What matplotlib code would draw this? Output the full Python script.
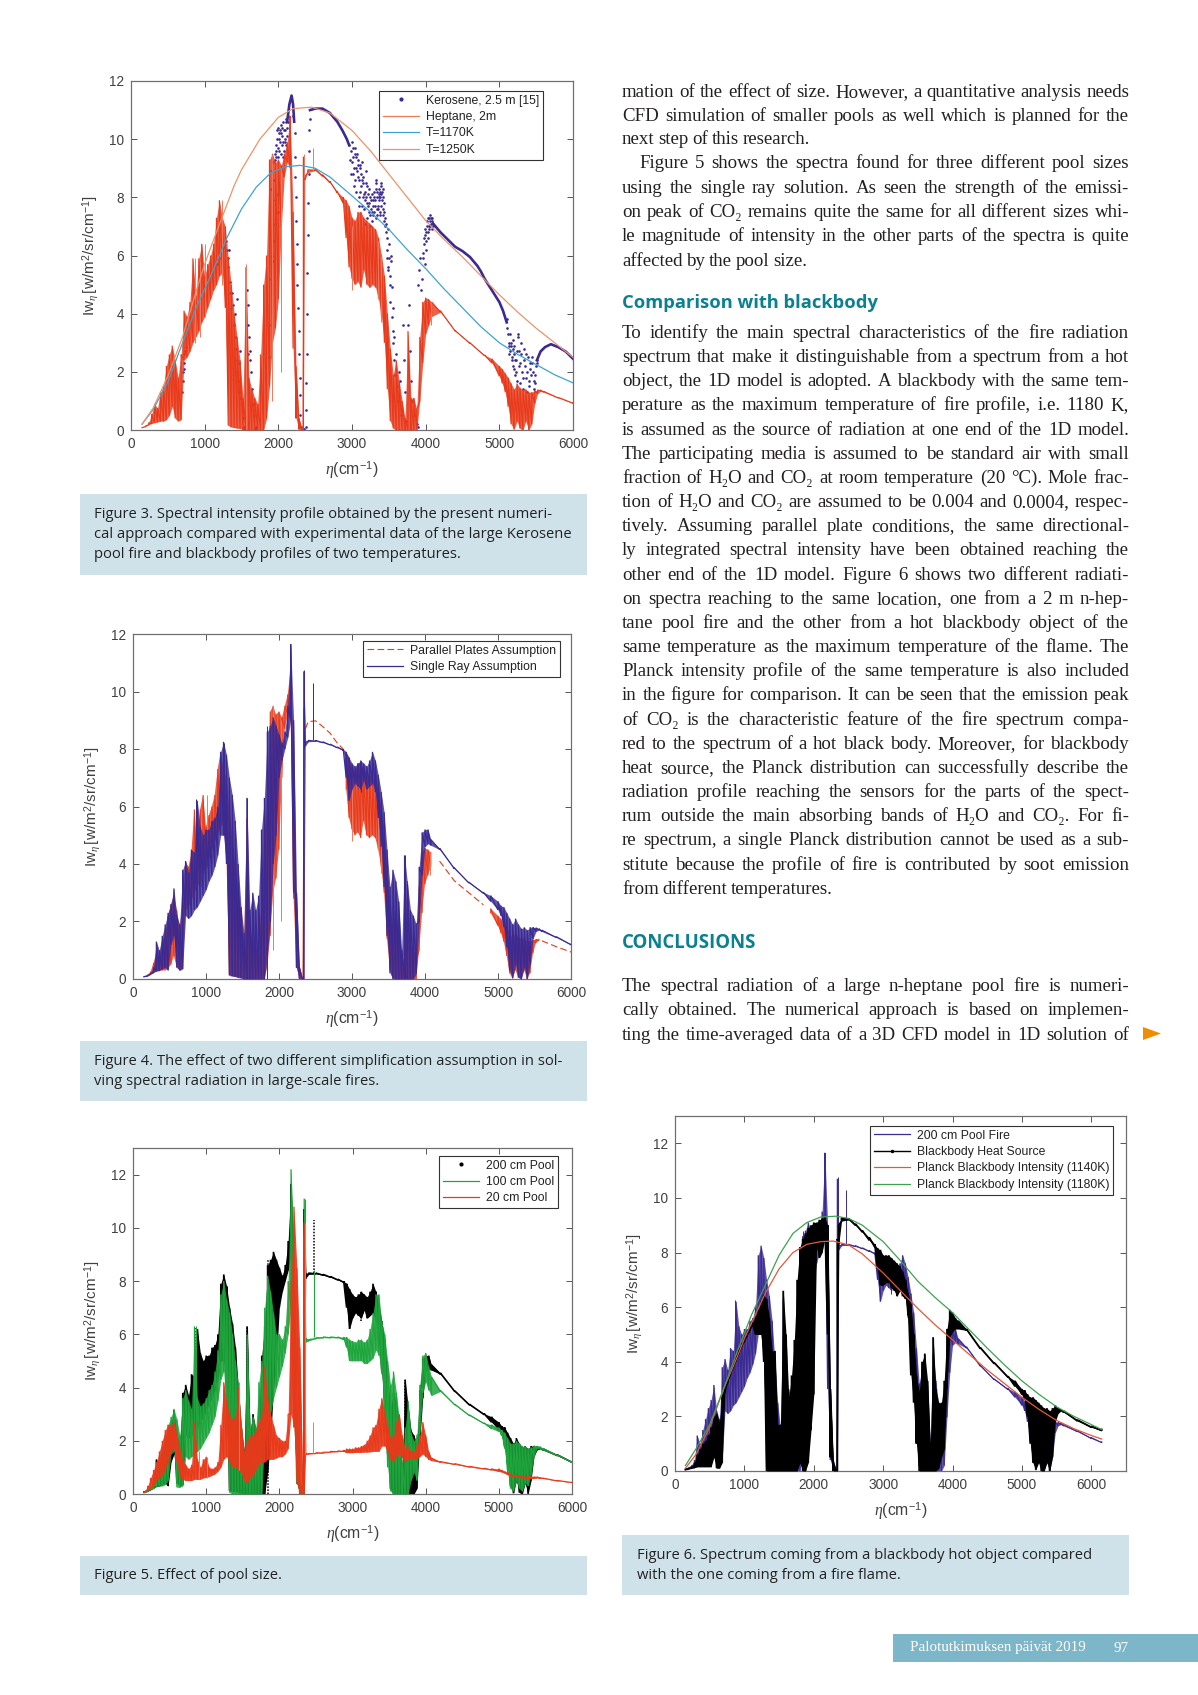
import matplotlib
matplotlib.use('Agg')
import matplotlib.pyplot as plt
from matplotlib.lines import Line2D
from matplotlib.patches import Rectangle, Polygon

W, H = 1198, 1695
plt.rcParams['font.family'] = ['Liberation Sans', 'DejaVu Sans']
plt.rcParams['mathtext.fontset'] = 'custom'
plt.rcParams['mathtext.rm'] = 'Liberation Sans'
plt.rcParams['mathtext.it'] = 'Liberation Serif:italic'

# wavenumber grid shared by the spectra
eta = [150, 200, 240, 280, 320, 360, 400, 440, 480, 520, 560, 600, 640, 680,
       720, 760, 800, 840, 880, 920, 960, 1000, 1040, 1080, 1120, 1160, 1200, 1240, 1280,
       1320, 1360, 1400, 1440, 1480, 1520, 1560, 1600, 1640, 1680, 1720, 1760, 1800, 1840, 1880, 1920, 1960, 2000, 2040, 2080, 2120, 2160, 2200, 2240, 2280, 2320,
       2340, 2360, 2400, 2500, 2600, 2700, 2800, 2880,
       2920, 2960, 3000, 3040, 3080, 3120, 3160, 3200, 3240, 3280, 3320, 3360, 3400, 3440, 3480, 3520, 3560, 3600, 3640, 3680, 3720, 3760, 3800, 3840, 3880, 3920, 3960, 4000, 4040, 4080,
       4200, 4400, 4600, 4800, 4900, 5000, 5040, 5080, 5120, 5160, 5200, 5240, 5280, 5320, 5360, 5400, 5440, 5480, 5520, 5560, 5600, 5800, 6000, 6150]

# parallel plates (Heptane, 2m)
pp_lo = [.08, .12, .18, .22, .25, .27, .3, .3, .35, .5, .8, .4, .3, .35,
         2.4, 2.5, 2.7, 3.0, 3.2, 3.4, 3.7, 3.9, 4.2, 4.5, 4.8, 5.0, 5.3, 5.4, 4.2,
         .15, .1, .08, .06, .05, 0, 0, 0, 0, 0, 0, 0, 0, .4, 1.5, 3, 3.5, 4.5, 7, 8.7, 9.2, 9.0, 2.8, .4, .02, 0,
         0, 8.6, 8.85, 8.92, 8.72, 8.5, 8.15, 7.8,
         6.6, 5.6, 5.2, 5.0, 5.1, 4.9, 5.5, 5.0, 4.9, 5.0, 4.9, 4.5, 3.9, 3.0, 1.4, .3, .05, 0, 0, 0, 0, 0, 0, 0, 0, 1, 2.3, 3.3, 3.6, 3.9,
         4.05, 3.4, 2.98, 2.55, 2.3, 1.85, 1.6, 1.3, .8, .2, .02, .3, .05, 0, .3, 0, .2, .9, 1.25, 1.33, 1.3, 1.1, .92, .8]
pp_hi = [.08, .14, .25, .55, .9, .75, 1.3, 1.5, 2.2, 2.6, 2.9, 2.4, 1.8, 2.6,
         4.1, 3.9, 4.4, 5.9, 4.6, 5.9, 6.4, 5.3, 5.7, 6.0, 6.4, 7.3, 7.9, 7.3, 7.0,
         5.9, 5.0, 4.0, 3.2, 2.4, 1.1, 5.6, 1.8, 1.4, 1.1, .9, 2.6, 5.0, 6, 9.3, 9.5, 9.2, 9.3, 9.1, 9.5, 9.9, 10.8, 7.5, 2.2, .4, .02,
         9.4, 8.7, 8.95, 8.98, 8.78, 8.55, 8.2, 8.0,
         7.9, 7.7, 7.3, 7.2, 7.5, 7.5, 7.3, 7.2, 7.1, 7.0, 6.9, 6.6, 6.0, 5.3, 4.0, 2.8, 1.9, 2.4, 1.7, 1.0, .4, 3.4, 1.1, 1.1, .7, 3.2, 4.4, 4.55, 4.5, 4.4,
         4.1, 3.42, 3.0, 2.58, 2.45, 2.2, 2.1, 1.95, 1.8, 1.6, 1.4, 1.6, 1.45, 1.4, 1.4, 1.3, 1.3, 1.35, 1.38, 1.38, 1.33, 1.12, .94, .82]

# single ray (also the 200 cm pool)
sr_lo = [.08, .1, .16, .22, .28, .3, .35, .4, .3, 1.2, 1.5, .4, .3, .35,
         2.2, 2.1, 2.2, 2.4, 2.5, 2.7, 2.9, 3.1, 3.4, 3.6, 3.9, 4.3, 5, 5, 4,
         .12, .1, .08, .05, .03, 0, 0, 0, 0, 0, 0, 0, 0, .8, 2, 4, 5, 7, 7.6, 8, 8.4, 9, 3, .4, .02, 0,
         0, 8.1, 8.25, 8.27, 8.22, 8.14, 8.04, 7.95,
         7.0, 6.2, 6.6, 6.8, 6.7, 6.6, 6.9, 6.6, 6.7, 6.8, 6.5, 5.6, 4.6, 3.2, 1.5, .2, 0, 0, 0, 0, 0, 0, 0, 0, .2, 2, 3.6, 4.6, 4.7, 4.65,
         4.5, 3.84, 3.34, 2.98, 2.7, 2.4, 2.2, 1.8, 1.1, .3, .03, .5, .05, 0, .4, 0, .5, 1.4, 1.65, 1.7, 1.65, 1.44, 1.19, 1.04]
sr_hi = [.08, .12, .2, .4, 1.3, 1.0, 1.5, 1.9, 2.3, 2.6, 3.15, 2.2, 1.9, 3.8,
         4.1, 3.7, 4.5, 4.4, 6.2, 5.3, 5.0, 5.2, 5.2, 5.5, 5.6, 6.0, 7.9, 8.25, 7.8,
         7.0, 6.4, 5.5, 4.0, 2.5, 1.6, 6.3, 2.4, 3.0, 2.4, 2.9, 5.2, 6.3, 8.6, 8.8, 9.1, 8.8, 8.5, 8.2, 8.6, 9.5, 11.65, 9, 3, .4, .02,
         10.7, 8.25, 8.3, 8.3, 8.25, 8.17, 8.07, 8.0,
         7.9, 7.7, 7.5, 7.4, 7.5, 7.6, 7.5, 7.4, 7.6, 7.9, 7.6, 7.1, 6.5, 5.8, 4.5, 3.2, 3.8, 3.4, 2.7, 1.0, 4.3, 3.3, 2.4, 2.2, 1.9, 3.9, 5.1, 5.2, 5.2, 4.85,
         4.55, 3.87, 3.37, 3.02, 2.9, 2.7, 2.55, 2.5, 2.3, 2.1, 1.9, 2.1, 1.9, 1.75, 1.8, 1.7, 1.8, 1.8, 1.78, 1.75, 1.7, 1.47, 1.22, 1.06]

# 100 cm pool
p100_lo = [.05, .1, .16, .2, .28, .3, .3, .35, .5, 1.5, 1.6, .25, .25, .3,
           1.4, 1.3, 1.4, 1.5, 1.6, 1.7, 1.9, 2.1, 2.3, 2.6, 2.9, 3.5, 4.3, 4.6, 3,
           .05, 0, 0, 0, 0, 0, 0, 0, 0, 0, 0, 0, 2, 2.5, 3, 3.6, 4, 4.4, 4.8, 5.3, 6, 7, 2.5, .4, .02, 0,
           0, 5.7, 5.75, 5.84, 5.87, 5.87, 5.87, 5.8,
           5.5, 5.0, 5.0, 5.0, 5.0, 5.0, 4.9, 4.9, 5.0, 5.1, 5.4, 5.2, 4.5, 2.9, 1.0, .1, 0, 0, 0, 0, 0, 0, .5, .8, .5, 2.3, 3.8, 4.2, 3.9, 3.7,
           3.85, 3.34, 2.94, 2.64, 2.45, 2.35, 2.2, 1.7, .8, .2, .1, .5, .2, .1, .4, .3, .7, 1.4, 1.7, 1.72, 1.65, 1.44, 1.19, 1.04]
p100_hi = [.07, .12, .2, .5, 1.2, 1.3, 1.6, 2.1, 2.6, 2.9, 3.2, 2.8, 2.2, 3.6,
           3.9, 3.5, 3.2, 6.3, 3.6, 3.3, 3.4, 3.6, 3.9, 4.1, 4.6, 5.4, 7.5, 8.0, 7.3,
           6.8, 6, 5, 4.1, 2.6, 1.5, 6, 2.5, 2.9, 2.5, 4.2, 5, 7, 8.2, 7.6, 6.8, 6, 6.0, 5.8, 6.3, 8, 12.2, 9.5, 3, .4, .02,
           11.1, 5.85, 5.8, 5.87, 5.9, 5.9, 5.9, 5.9,
           5.9, 5.8, 5.75, 5.7, 5.8, 5.8, 5.7, 5.8, 6.2, 6.8, 7.5, 7.5, 6.5, 6.0, 5, 4.1, 4.6, 3.8, 2.8, 1.1, 2.5, 3.5, 2.3, 2, 2.2, 4.1, 5.2, 5.3, 4.8, 4.4,
           3.9, 3.37, 2.97, 2.67, 2.6, 2.5, 2.4, 2.3, 2.1, 1.9, 1.9, 2, 1.9, 1.8, 1.8, 1.7, 1.75, 1.8, 1.8, 1.78, 1.72, 1.47, 1.22, 1.06]

# 20 cm pool
p20_lo = [.05, .15, .2, .3, .5, .6, .7, .9, 1.2, 1.6, 1.7, 1.2, .65, .55,
          .5, .5, .5, .55, .55, .55, .6, .62, .65, .7, .75, .85, 1, 1.3, 1.4,
          1.2, 1.0, 1.0, .9, .8, .5, .4, .6, .7, .9, 1.1, 1.2, 1.2, 1.3, 1.3, 1.3, 1.35, 1.4, 1.4, 1.5, 1.7, 3, 2.5, .4, .02, 0,
          0, 1.48, 1.5, 1.52, 1.54, 1.57, 1.59, 1.6,
          1.55, 1.55, 1.55, 1.56, 1.56, 1.56, 1.57, 1.57, 1.58, 1.6, 1.6, 1.6, 1.8, 1.8, 1.6, 1.3, 1.2, 1.4, 1.5, 1.35, 1.2, 1.3, 1.3, 1.3, 1.35, 1.4, 1.5, 1.4, 1.3, 1.25,
          1.19, 1.11, 1.01, .94, .9, .85, .82, .78, .72, .68, .65, .62, .62, .6, .6, .58, .58, .58, .6, .58, .58, .49, .43, .39]
p20_hi = [.07, .3, .6, .9, 1.2, 1.6, 2.0, 2.4, 2.6, 2.6, 2.7, 2.3, 1.7, 1.3,
          1.1, .95, 1.1, 2.7, 1.3, 1.0, 1.3, 1.4, 1.0, .95, 1.0, 1.2, 2.6, 4.2, 3.5,
          3.0, 2.8, 2.9, 4, 2.6, 1.6, 2.0, 2.2, 2.2, 2.4, 2.7, 3, 4.8, 3.6, 3.0, 2.6, 2.2, 2.1, 2, 2, 3, 8, 10.8, 8.5, 5.5, .3,
          10.2, 1.52, 1.52, 1.55, 1.57, 1.6, 1.62, 1.65,
          1.7, 1.7, 1.7, 1.75, 1.75, 1.8, 1.85, 2, 2.2, 2.5, 2.6, 3.2, 3.6, 3.1, 2.6, 2.1, 2.2, 2.7, 3.0, 2.2, 1.7, 1.8, 1.6, 1.6, 1.8, 2.2, 2.7, 2.2, 1.6, 1.35,
          1.22, 1.14, 1.04, .97, .95, .95, .9, .85, .82, .75, .72, .7, .7, .68, .66, .68, .66, .65, .65, .62, .6, .51, .45, .41]

# blackbody heat source
bb_lo = [.05, .08, .1, .12, .15, .15, .15, .15, .15, .15, .5, .1, .1, .3,
         2.9, 3.25, 3.55, 3.8, 4.05, 4.3, 4.55, 4.75, 4.95, 5.15, 5.35, 5.0, 5, 5, 4,
         0, 0, 0, 0, 0, 0, 0, 0, 0, 0, 0, 0, .3, 0, 0, .3, 1.5, 2.8, 8.2, 7.8, 8, 8.5, 5, .5, 0, 0,
         0, 8.3, 9.15, 9.2, 9.0, 8.75, 8.45, 8.2,
         7.4, 6.8, 6.8, 6.9, 6.9, 6.7, 6.6, 6.4, 6.6, 6.4, 6.3, 5.7, 3.5, 2.5, 1, 0, 0, 0, 0, 0, 0, 0, .1, .5, .8, 3, 4.9, 5.1, 5.2, 5.2,
         5.15, 4.48, 3.93, 3.43, 3.1, 2.8, 2.6, 2.0, 1, .3, .05, .3, 0, 0, .3, 0, .5, 1.8, 2.1, 2.2, 2.15, 1.83, 1.6, 1.48]
bb_hi = [.05, .1, .15, .3, .6, .8, 1.0, 1.1, 1.3, 1.6, 2.0, 2.1, 1.8, 2.7,
         3.1, 3.35, 3.65, 3.9, 4.15, 4.4, 4.65, 4.85, 5.05, 5.25, 5.45, 5.65, 5.9, 6.2, 6.45,
         6.3, 5.6, 4.4, 4.4, 1.7, 1.7, 6.6, 5, 2.7, 3.5, 4.8, 7, 8.2, 8.5, 8.7, 8.9, 9, 9.1, 9.1, 9.2, 9.25, 9.3, 9, 3, .3, .05,
         8.5, 9.0, 9.27, 9.25, 9.05, 8.8, 8.55, 8.3,
         8.15, 8.1, 7.9, 7.9, 7.9, 7.8, 7.7, 7.6, 7.5, 7.3, 7.0, 6.5, 6.1, 5.0, 3.5, 2.9, 4.0, 4.3, 3.3, 1, 4.9, 3.0, 2.5, 2.5, 3.3, 5.2, 5.9, 5.8, 5.6, 5.5,
         5.2, 4.52, 3.97, 3.47, 3.3, 3.0, 2.95, 2.8, 2.7, 2.7, 2.6, 2.5, 2.4, 2.3, 2.3, 2.2, 2.3, 2.4, 2.3, 2.25, 2.2, 1.87, 1.64, 1.52]

# thin spikes above the dense bands
pp_spike_x = [870, 930, 1010, 1230, 1560, 1920, 2030, 2345, 2470, 3000, 3350, 3400, 4070]
pp_spike_lo = [3, 3.2, 3.9, 5, 0, 1, 2, 8.7, 8.9, 4.8, 4.5, 3.7, 3.6]
pp_spike_hi = [5.9, 5.8, 6.4, 7.9, 5.7, 9.5, 9, 9.5, 9.7, 7, 6.5, 6, 4.4]
sr_spike_x = [860, 1240, 1560, 1840, 2345, 2470, 3120, 3720]
sr_spike_lo = [2.5, 5, 0, 0, 8, 8.3, 6.5, 0]
sr_spike_hi = [6.25, 8.2, 6.3, 8.8, 10.75, 10.3, 7.6, 4.3]
p100_spike_x = [2470, 2345, 860, 3480]
p100_spike_lo = [5.9, 5.8, 1.6, 2]
p100_spike_hi = [8.4, 11.1, 6.3, 4.7]
p20_spike_x = [2465, 1010, 900, 1450, 2345]
p20_spike_lo = [1.55, .6, .6, .9, 1.5]
p20_spike_hi = [2.7, 1.4, 1.6, 4.2, 10.2]

# Planck curves
t1250_x = [150, 300, 500, 700, 900, 1000, 1100, 1250, 1400, 1500, 1750, 2000, 2200, 2450, 2700, 3000, 3250, 3500, 3750, 4000, 4250, 4500, 4750, 5000, 5250, 5500, 5750, 6000]
t1250_y = [.2, .75, 1.85, 3.2, 4.9, 5.7, 6.4, 7.4, 8.4, 8.95, 10.0, 10.75, 11.05, 11.1, 10.9, 10.3, 9.6, 8.8, 8.0, 7.2, 6.55, 5.95, 5.3, 4.65, 4.05, 3.5, 3.0, 2.5]
t1170_x = [150, 300, 500, 700, 900, 1100, 1300, 1500, 1700, 1900, 2100, 2300, 2500, 2700, 3000, 3250, 3500, 3750, 4000, 4250, 4500, 4750, 5000, 5250, 5500, 5750, 6000]
t1170_y = [.2, .7, 1.65, 3.0, 4.3, 5.4, 6.6, 7.6, 8.35, 8.85, 9.05, 9.1, 9.0, 8.7, 8.05, 7.5, 6.9, 6.2, 5.55, 4.85, 4.2, 3.55, 3.0, 2.6, 2.25, 1.9, 1.62]
p1140_x = [150, 300, 500, 700, 900, 1000, 1100, 1300, 1500, 1700, 1900, 2100, 2280, 2500, 2700, 3000, 3250, 3500, 3750, 4000, 4250, 4500, 4750, 5000, 5250, 5500, 5750, 6000, 6150]
p1140_y = [.1, .6, 1.6, 3, 4.2, 4.85, 5.4, 6.5, 7.4, 8.0, 8.3, 8.4, 8.42, 8.28, 7.95, 7.25, 6.6, 5.95, 5.35, 4.8, 4.25, 3.7, 3.2, 2.7, 2.25, 1.85, 1.55, 1.3, 1.17]
p1180_x = [150, 300, 500, 700, 900, 1100, 1300, 1500, 1700, 1900, 2100, 2320, 2500, 2700, 3000, 3250, 3500, 3750, 4000, 4250, 4500, 4750, 5000, 5250, 5500, 5750, 6000, 6150]
p1180_y = [.2, .8, 1.7, 3, 4.4, 5.7, 6.8, 7.9, 8.7, 9.1, 9.3, 9.33, 9.25, 9.0, 8.4, 7.7, 6.95, 6.35, 5.8, 5.15, 4.5, 3.88, 3.3, 2.8, 2.35, 2.0, 1.7, 1.52]

# kerosene data
ker_x = [690, 700, 705, 715, 720, 725, 735, 745, 1170, 1200, 1230, 1260, 1285, 1300, 1310, 1320, 1325, 1340, 1350, 1360, 1375, 1385, 1395, 1405, 1415, 1425, 1435, 1445, 1460, 1470, 1480, 1440, 1480, 1470,
         1510, 1520, 1530, 1540, 1580, 1585, 1595, 1600, 1610, 1620, 1630, 1640, 1655, 1665, 1680, 1700, 1590,
         1870, 1880, 1900, 1910, 1925, 1945, 1960, 1990, 1905, 1950, 2000, 1940, 1900, 1930, 1965, 2000,
         1970, 1985, 2005, 2020, 2035, 2050, 2065, 2080, 2095, 2110, 2000, 2040, 2060, 2090,
         1955, 1975, 1995, 2015, 2030, 2045, 2055, 2075, 2085, 2100, 2115, 2125, 2010, 2025, 2070, 1960, 1980, 2105, 2120, 2130,
         2205, 2220, 2225, 2230, 2240, 2245, 2250, 2255, 2260, 2265, 2275, 2280, 2290, 2295, 2300, 2310, 2330, 2345, 2370, 2375, 2380, 2385, 2390, 2395, 2400, 2405, 2410, 2415, 2420, 2430,
         2960, 2970, 2980, 3000, 3010, 3020, 3030, 3040, 3050, 3060, 3070, 3080, 3090, 3100, 3110, 3120, 3130, 3140, 3150, 3160, 3170, 3180, 3190, 3200, 3210, 3220, 3230, 3240, 3250, 3260, 3270, 3280, 3290, 3300, 3310, 3320, 3330, 3340, 3350, 3360, 3370, 3380, 3390, 3400, 3410, 3420, 3430, 3440, 3450,
         2990, 3005, 3015, 3025, 3035, 3045, 3055, 3065, 3075, 3085, 3095, 3105, 3115, 3125, 3135, 3145, 3155, 3165, 3175, 3185, 3195, 3205, 3215, 3225, 3235, 3245, 3255, 3265, 3275, 3285, 3295, 3305, 3315, 3325, 3335, 3345, 3355, 3365, 3375, 3385, 3395, 3405, 3415, 3425, 3435, 3445, 3320, 3340, 3360, 3380, 3400, 3420,
         3460, 3470, 3480, 3490, 3500, 3510, 3520, 3530, 3540, 3550, 3560, 3570, 3590, 3610, 3630, 3650, 3670, 3690, 3700, 3720, 3735, 3760, 3780, 3790, 3800, 3820, 3845, 3880, 3900,
         3465, 3475, 3485, 3495, 3505, 3515, 3525, 3545, 3555, 3575, 3600, 3640,
         3900, 3910, 3920, 3930, 3945, 3960, 3975, 3985, 3995, 4005, 4015, 4025, 4035, 4045, 4055, 4065, 4075, 4090, 4105,
         3990, 4000, 4010, 4020, 4030, 4040, 4050, 4060, 4070, 4080, 4085, 4095, 3970, 3980,
         5100, 5120, 5130, 5140, 5150, 5165, 5175, 5185, 5195, 5205, 5215, 5225, 5240, 5255, 5265, 5280, 5295, 5310, 5325, 5340, 5360, 5375, 5390, 5405, 5420, 5440, 5455, 5470, 5480, 5495, 5510,
         5110, 5125, 5135, 5155, 5170, 5180, 5190, 5200, 5210, 5220, 5235, 5250, 5270, 5285, 5300, 5315, 5330, 5350, 5365, 5380, 5400, 5415, 5430, 5450, 5465, 5490, 5505]
ker_y = [1.3, 1.7, 2.0, 2.3, 2.1, 2.6, 2.7, 2.85, 5.7, 5.9, 6.1, 6.3, 6.5, 6.2, 5.9, 5.6, 6.2, 5.1, 4.7, 4.2, 4.7, 4.3, 3.6, 4.0, 3.2, 2.8, 2.4, 2.0, 1.7, 1.3, 1.1, 4.5, 2.7, 2.3,
         .9, .4, .1, .05, 4.8, 4.3, 3.6, 3.2, 2.7, 2.4, 2.0, 1.4, .9, .5, .05, .1, 2.6,
         2.5, 3.6, 5.2, 6.0, 5.8, 6.5, 7.1, 7.5, 8.3, 7.9, 8.1, 8.6, 8.9, 9.2, 9.4, 9.4,
         9.8, 10.0, 10.2, 9.9, 10.5, 10.1, 10.6, 9.6, 10.3, 10.7, 9.7, 9.5, 9.4, 9.9,
         9.3, 9.6, 10.4, 9.6, 10.2, 9.8, 10.4, 10.3, 10.0, 10.6, 10.4, 10.8, 10.0, 10.3, 9.9, 9.5, 10.3, 9.8, 10.1, 10.6,
         10.8, 10.2, 9.4, 8.7, 8.0, 7.2, 6.4, 5.7, 5.0, 4.2, 3.4, 2.6, 1.8, 1.2, .5, .1, .05, .05, .1, .7, 1.6, 2.6, 4.0, 5.4, 6.7, 7.8, 8.8, 9.6, 10.3, 10.7,
         9.8, 9.3, 8.8, 9.9, 9.4, 8.8, 8.4, 9.7, 9.0, 8.2, 9.5, 8.7, 8.0, 7.7, 9.1, 8.4, 7.7, 9.2, 8.5, 7.6, 7.1, 8.2, 8.9, 7.8, 7.3, 8.1, 7.5, 7.0, 8.0, 7.6, 7.2, 7.9, 7.4, 8.2, 7.7, 7.3, 8.5, 8.0, 7.6, 8.3, 7.9, 7.4, 8.1, 8.4, 8.2, 7.6, 7.2, 7.8, 7.0,
         9.6, 9.2, 9.7, 9.0, 9.5, 8.6, 9.4, 8.9, 9.1, 9.3, 8.6, 9.0, 8.2, 8.8, 8.6, 8.0, 8.7, 8.1, 7.9, 8.5, 8.0, 8.4, 7.7, 8.3, 7.8, 7.4, 7.9, 8.1, 7.5, 7.7, 8.0, 7.5, 7.9, 8.3, 7.6, 8.2, 7.7, 8.1, 7.5, 8.0, 8.5, 7.9, 7.4, 8.0, 7.5, 7.3, 8.6, 7.4, 8.0, 8.2, 7.7, 8.3,
         6.8, 6.2, 5.9, 5.5, 6.4, 5.0, 4.4, 5.8, 3.9, 3.4, 3.0, 2.4, 1.9, 1.5, 1.0, 1.7, .5, 3.6, 2.4, 1.3, .3, 3.6, 4.3, 2.7, 1.7, 1.0, .5, .2, .1,
         7.1, 6.6, 5.6, 6.9, 5.9, 5.3, 6.0, 4.9, 4.2, 3.2, 2.6, 2.0,
         5.0, 5.5, 5.9, 4.8, 5.2, 5.9, 6.4, 5.7, 6.7, 6.2, 7.0, 6.6, 7.3, 6.9, 7.2, 7.4, 7.1, 7.2, 7.0,
         6.9, 6.5, 6.8, 7.2, 6.8, 7.0, 7.3, 7.0, 7.3, 7.3, 6.9, 7.1, 6.1, 6.6,
         3.8, 3.3, 2.9, 3.3, 2.7, 3.0, 2.4, 2.8, 2.1, 2.6, 1.9, 2.4, 1.7, 3.3, 2.2, 1.6, 2.6, 2.0, 1.4, 2.4, 1.8, 1.3, 2.5, 1.7, 2.1, 2.3, 2.0, 1.4, 1.6, 2.2, 2.4,
         3.5, 3.0, 2.6, 2.9, 2.5, 3.1, 2.2, 2.9, 2.4, 2.0, 2.7, 3.2, 2.7, 2.3, 3.0, 1.8, 2.8, 2.2, 2.6, 2.0, 1.5, 2.3, 1.9, 2.5, 1.7, 1.9, 2.3]
ker_top_x = [2430, 2500, 2600, 2700, 2800, 2870, 2930, 2960]
ker_top_y = [11.0, 11.05, 11.05, 10.9, 10.6, 10.3, 10.0, 9.8]
ker_peak_x = [2120, 2150, 2180, 2200, 2215]
ker_peak_y = [10.6, 11.2, 11.5, 11.2, 10.6]
ker_mid_x = [4100, 4200, 4300, 4400, 4500, 4600, 4700, 4750, 4800, 4900, 5000, 5050, 5100]
ker_mid_y = [7.1, 6.8, 6.55, 6.3, 6.15, 5.95, 5.65, 5.45, 5.2, 4.8, 4.4, 4.1, 3.7]
ker_end_x = [5510, 5560, 5620, 5700, 5800, 5900, 6000]
ker_end_y = [2.4, 2.7, 2.85, 2.95, 2.85, 2.7, 2.45]

body_1 = ["mation of the effect of size. However, a quantitative analysis needs",
          "CFD simulation of smaller pools as well which is planned for the",
          "next step of this research.",
          "Figure 5 shows the spectra found for three different pool sizes",
          "using the single ray solution. As seen the strength of the emissi-",
          "on peak of CO₂ remains quite the same for all different sizes whi-",
          "le magnitude of intensity in the other parts of the spectra is quite",
          "affected by the pool size."]
body_2 = ["To identify the main spectral characteristics of the fire radiation",
          "spectrum that make it distinguishable from a spectrum from a hot",
          "object, the 1D model is adopted. A blackbody with the same tem-",
          "perature as the maximum temperature of fire profile, i.e. 1180 K,",
          "is assumed as the source of radiation at one end of the 1D model.",
          "The participating media is assumed to be standard air with small",
          "fraction of H₂O and CO₂ at room temperature (20 °C). Mole frac-",
          "tion of H₂O and CO₂ are assumed to be 0.004 and 0.0004, respec-",
          "tively. Assuming parallel plate conditions, the same directional-",
          "ly integrated spectral intensity have been obtained reaching the",
          "other end of the 1D model. Figure 6 shows two different radiati-",
          "on spectra reaching to the same location, one from a 2 m n-hep-",
          "tane pool fire and the other from a hot blackbody object of the",
          "same temperature as the maximum temperature of the flame. The",
          "Planck intensity profile of the same temperature is also included",
          "in the figure for comparison. It can be seen that the emission peak",
          "of CO₂ is the characteristic feature of the fire spectrum compa-",
          "red to the spectrum of a hot black body. Moreover, for blackbody",
          "heat source, the Planck distribution can successfully describe the",
          "radiation profile reaching the sensors for the parts of the spect-",
          "rum outside the main absorbing bands of H₂O and CO₂. For fi-",
          "re spectrum, a single Planck distribution cannot be used as a sub-",
          "stitute because the profile of fire is contributed by soot emission",
          "from different temperatures."]
body_3 = ["The spectral radiation of a large n-heptane pool fire is numeri-",
          "cally obtained. The numerical approach is based on implemen-",
          "ting the time-averaged data of a 3D CFD model in 1D solution of"]
cap_3 = ["Figure 3. Spectral intensity profile obtained by the present numeri-",
         "cal approach compared with experimental data of the large Kerosene",
         "pool fire and blackbody profiles of two temperatures."]
cap_4 = ["Figure 4. The effect of two different simplification assumption in sol-",
         "ving spectral radiation in large-scale fires."]
cap_5 = ["Figure 5. Effect of pool size."]
cap_6 = ["Figure 6. Spectrum coming from a blackbody hot object compared",
         "with the one coming from a fire flame."]

RED = '#e8391a'
BLUE = '#3a2a92'
GREEN = '#1ea53c'
YLAB = r'$\mathrm{Iw}_{\eta}\,[\mathrm{w/m}^{2}\mathrm{/sr/cm}^{-1}]$'
XLAB = r'$\eta\mathrm{(cm}^{-1}\mathrm{)}$'
BODY = 13.6

fig = plt.figure(figsize=(W / 100, H / 100), dpi=100, facecolor='white')
page = fig.add_axes([0, 0, 1, 1], zorder=0)
page.set_xlim(0, W)
page.set_ylim(H, 0)
page.axis('off')
renderer = fig.canvas.get_renderer()
SERIF = ['Liberation Serif', 'DejaVu Serif']


def line_out(s, x0, x1, y, size, justify=True):
    # places word by word so both column edges line up
    words = s.split(' ')
    items = [page.text(x0, y, w, fontsize=size, family=SERIF, color='#231f20', va='baseline') for w in words]
    widths = [t.get_window_extent(renderer).width for t in items]
    space = size * 100 / 72 * 0.2
    if justify and len(words) > 1:
        space = (x1 - x0 - sum(widths)) / (len(words) - 1)
    x = x0
    for t, w in zip(items, widths):
        t.set_x(x)
        x += w + space


def caption(x0, y0, x1, y1, lines, ys, tx):
    page.add_patch(Rectangle((x0, y0), x1 - x0, y1 - y0, fc='#cfe2ea', ec='none'))
    for s, y in zip(lines, ys):
        page.text(tx, y, s, fontsize=10.6, family=['Open Sans', 'DejaVu Sans'], color='#222222', va='center')


def make_ax(l, t, r, b, xmax, ymax, xt, yt):
    ax = fig.add_axes([l / W, 1 - b / H, (r - l) / W, (b - t) / H], zorder=2)
    ax.set_xlim(0, xmax)
    ax.set_ylim(0, ymax)
    ax.set_xticks(xt)
    ax.set_yticks(yt)
    ax.tick_params(direction='in', top=True, right=True, length=4, width=.7, color='#555555',
                   labelcolor='#404040', labelsize=9.8, pad=5)
    for sp in ax.spines.values():
        sp.set_color('#707070')
        sp.set_linewidth(.9)
    ax.set_xlabel(XLAB, fontsize=11.3, color='#404040', labelpad=6)
    ax.set_ylabel(YLAB, fontsize=11, color='#404040', labelpad=5)
    return ax


def spectrum(ax, lo, hi, color, lw=.8, alpha=.75, z=2, mask=None):
    # dense body between the envelopes, with the lines swinging across it
    ax.fill_between(eta, lo, hi, where=mask, color=color, lw=0, alpha=alpha, zorder=z)
    xs, ys = [], []
    for i, e in enumerate(eta):
        if mask is not None and not mask[i]:
            xs.append(float('nan'))
            ys.append(float('nan'))
            continue
        xs += [e, e]
        ys += [lo[i], hi[i]]
    ax.plot(xs, ys, color=color, lw=lw, zorder=z, solid_joinstyle='bevel')


def boxed_legend(ax, handles, labels, x, y, fs=8.8, spacing=.36, hl=2.95):
    ax.legend(handles, labels, loc='upper left', bbox_to_anchor=(x, y), borderaxespad=0, fontsize=fs,
              fancybox=False, framealpha=1, edgecolor='#333333', labelspacing=spacing, handlelength=hl,
              handletextpad=.6, borderpad=.3, labelcolor='#222222').get_frame().set_linewidth(.8)


# page furniture
for s, y in zip(body_1, [90.8, 114.6, 138.4, 162.2, 187, 210.8, 234.6, 259.5]):
    line_out(s, 639 if s.startswith('Figure 5') else 622, 1129, y + 6, BODY, justify=s not in (body_1[2], body_1[7]))
page.text(622, 308, 'Comparison with blackbody', fontsize=13.2, family=['Open Sans', 'DejaVu Sans'], fontweight='bold', color='#0b8090', va='baseline')
for i, s in enumerate(body_2):
    line_out(s, 622, 1129, 332 + i * 24.16 + 6, BODY, justify=i < len(body_2) - 1)
page.text(622, 948, 'CONCLUSIONS', fontsize=13.4, family=['Open Sans', 'DejaVu Sans'], fontweight='bold', color='#0b8090', va='baseline')
for s, y in zip(body_3, [985, 1009, 1033.6]):
    line_out(s, 622, 1129, y + 6, BODY)
page.add_patch(Polygon([(1143, 1027), (1161, 1033.5), (1143, 1040)], fc='#f08c00', ec='none'))

caption(80, 494, 587, 575, cap_3, [514, 534, 554], 94)
caption(80, 1041, 587, 1101, cap_4, [1061.5, 1081.5], 94)
caption(80, 1556, 587, 1595, cap_5, [1575.5], 94)
caption(622, 1535, 1129, 1595, cap_6, [1555.5, 1575.5], 637)
page.add_patch(Rectangle((893, 1634), W - 893, 28, fc='#7db6c8', ec='none'))
page.text(910, 1648, 'Palotutkimuksen päivät 2019', fontsize=10.8, family=SERIF, color='white', va='center')
page.text(1114, 1648, '97', fontsize=10.8, family=SERIF, color='white', va='center')

xt6 = [0, 1000, 2000, 3000, 4000, 5000, 6000]

# Figure 3
ax3 = make_ax(131, 81, 573, 430, 6000, 12, xt6, [0, 2, 4, 6, 8, 10, 12])
ax3.plot(ker_x, ker_y, '.', color=BLUE, ms=3.8, mew=0, zorder=2)
for cx, cy in [(ker_top_x, ker_top_y), (ker_peak_x, ker_peak_y), (ker_mid_x, ker_mid_y), (ker_end_x, ker_end_y)]:
    ax3.plot(cx, cy, color=BLUE, lw=1.9, zorder=2)
spectrum(ax3, pp_lo, pp_hi, RED, lw=.85, alpha=.8, z=3)
ax3.vlines(pp_spike_x, pp_spike_lo, pp_spike_hi, color='#ee7a5f', lw=.7, zorder=3)
ax3.plot(t1170_x, t1170_y, color='#3fa3cf', lw=.9, zorder=4)
ax3.plot(t1250_x, t1250_y, color='#ea946a', lw=.9, zorder=4)
boxed_legend(ax3,
             [Line2D([], [], ls='', marker='.', color=BLUE, ms=4), Line2D([], [], color='#ea7a58', lw=.9),
              Line2D([], [], color='#3fa3cf', lw=.9), Line2D([], [], color='#ea946a', lw=.9)],
             ['Kerosene, 2.5 m [15]', 'Heptane, 2m', 'T=1170K', 'T=1250K'], 248 / 442, 1 - 10 / 349)

# Figure 4
ax4 = make_ax(133, 634, 571, 979, 6000, 12, xt6, [0, 2, 4, 6, 8, 10, 12])
dense_pp = [e < 2345 or 2900 <= e <= 4100 or 4880 <= e <= 5570 for e in eta]
dash_y = [float('nan') if d else v for v, d in zip(pp_hi, dense_pp)]
spectrum(ax4, pp_lo, pp_hi, RED, lw=.75, alpha=.8, z=2, mask=dense_pp)
ax4.plot(eta, dash_y, color=RED, lw=.8, ls=(0, (6, 3)), zorder=2)
ax4.vlines(pp_spike_x, pp_spike_lo, pp_spike_hi, color='#ee7a5f', lw=.7, zorder=2)
spectrum(ax4, sr_lo, sr_hi, BLUE, lw=.9, alpha=.8, z=3)
ax4.vlines(sr_spike_x, sr_spike_lo, sr_spike_hi, color=BLUE, lw=.7, zorder=3)
boxed_legend(ax4, [Line2D([], [], color=RED, lw=.8, ls=(0, (6, 3))), Line2D([], [], color=BLUE, lw=.9)],
             ['Parallel Plates Assumption', 'Single Ray Assumption'], 230 / 438, 1 - 7 / 345)

# Figure 5
ax5 = make_ax(133, 1148, 572, 1494, 6000, 13, xt6, [0, 2, 4, 6, 8, 10, 12])
spectrum(ax5, sr_lo, sr_hi, 'black', lw=1.2, alpha=1, z=2)
ax5.vlines(sr_spike_x, sr_spike_lo, sr_spike_hi, color='black', lw=1.1, ls=(0, (1, 1)), zorder=2)
spectrum(ax5, p100_lo, p100_hi, GREEN, lw=.9, alpha=.85, z=3)
ax5.vlines(p100_spike_x, p100_spike_lo, p100_spike_hi, color=GREEN, lw=.8, zorder=3)
spectrum(ax5, p20_lo, p20_hi, RED, lw=.85, alpha=.9, z=4)
ax5.vlines(p20_spike_x, p20_spike_lo, p20_spike_hi, color='#ee7a5f', lw=.7, zorder=4)
boxed_legend(ax5, [Line2D([], [], ls='', marker='.', color='black', ms=4), Line2D([], [], color=GREEN, lw=.9),
                   Line2D([], [], color=RED, lw=.9)],
             ['200 cm Pool', '100 cm Pool', '20 cm Pool'], 306 / 439, 1 - 8 / 346)

# Figure 6
ax6 = make_ax(675, 1116, 1126, 1471, 6500, 13, xt6, [0, 2, 4, 6, 8, 10, 12])
spectrum(ax6, sr_lo, sr_hi, BLUE, lw=.9, alpha=.8, z=2)
ax6.vlines(sr_spike_x, sr_spike_lo, sr_spike_hi, color=BLUE, lw=.7, zorder=2)
spectrum(ax6, bb_lo, bb_hi, 'black', lw=1.3, alpha=1, z=3)
ax6.plot(p1140_x, p1140_y, color='#e2583a', lw=.9, zorder=4)
ax6.plot(p1180_x, p1180_y, color='#3fa24f', lw=.9, zorder=4)
boxed_legend(ax6, [Line2D([], [], color=BLUE, lw=.9), Line2D([], [], color='black', lw=1, marker='.', ms=3),
                   Line2D([], [], color='#e2583a', lw=.9), Line2D([], [], color='#3fa24f', lw=.9)],
             ['200 cm Pool Fire', 'Blackbody Heat Source', 'Planck Blackbody Intensity (1140K)',
              'Planck Blackbody Intensity (1180K)'], 195 / 451, 1 - 10 / 355)

fig.savefig('out.png', dpi=100)
